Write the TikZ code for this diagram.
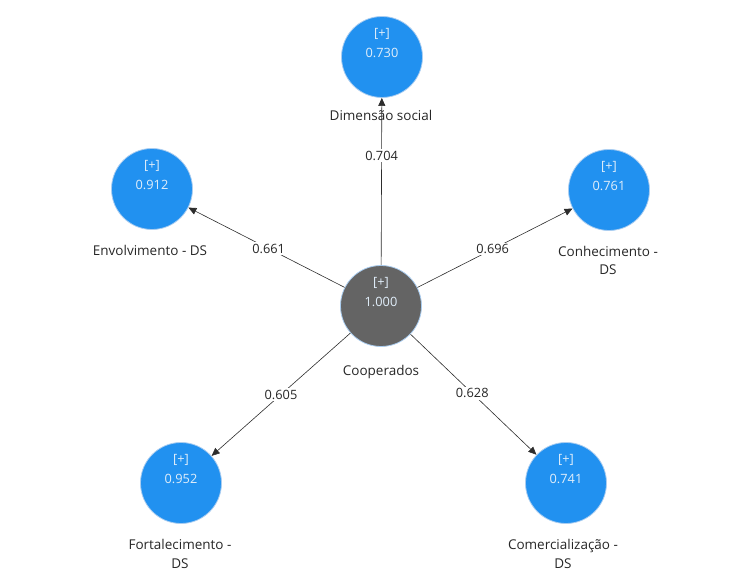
\documentclass[tikz,border=0pt]{standalone}
\usepackage{fontspec}
\setmainfont{Open Sans}
\usetikzlibrary{arrows.meta}
\definecolor{lvblue}{RGB}{33,145,240}
\definecolor{lvgray}{RGB}{100,100,100}
\definecolor{lvedge}{RGB}{170,205,240}
\definecolor{lvline}{RGB}{45,45,45}
\definecolor{lvin}{RGB}{225,238,250}
\tikzset{
  lv/.style={circle, fill=lvblue, draw=lvedge, line width=0.8pt, minimum size=81pt, inner sep=0pt},
  lvc/.style={lv, fill=lvgray},
  intext/.style={text=lvin, font=\fontsize{12.8}{14}\selectfont, align=center},
  lab/.style={text=black!85, font=\fontsize{13.5}{18.5}\selectfont, align=center},
  arr/.style={draw=lvline, line width=0.6pt, -{Triangle[length=8pt,width=7pt]}},
  wt/.style={fill=white, inner sep=1.5pt, text=black!85, font=\fontsize{12.8}{14}\selectfont}
}
\begin{document}
\begin{tikzpicture}[x=1pt,y=1pt]
\useasboundingbox (0,0) rectangle (756,577);
% latent variables
\node[lvc] (C)  at (381,271) {};
\node[lv]  (T)  at (382,520) {};
\node[lv]  (L)  at (152,388) {};
\node[lv]  (R)  at (609,387) {};
\node[lv]  (BL) at (181,94) {};
\node[lv]  (BR) at (566,94) {};
% connectors
\draw[arr] (C) -- node[wt, pos=0.655] (eT) {0.704} (T);
\draw[arr] (C) -- node[wt, pos=0.486] (eL) {0.661} (L);
\draw[arr] (C) -- node[wt, pos=0.485] (eR) {0.696} (R);
\draw[arr] (C) -- node[wt, pos=0.50] (eBL) {0.605} (BL);
\draw[arr] (C) -- node[wt, pos=0.49] (eBR) {0.628} (BR);
% inner texts
\foreach \n/\v in {C/1.000,T/0.730,L/0.912,R/0.761,BL/0.952,BR/0.741}{
  \node[intext] (\n p) at ([yshift=23pt]\n.center) {[+]};
  \node[intext] (\n v) at ([yshift=4pt]\n.center) {\v};
}
% labels
\node[lab] (Cl)  at (381,205) {Cooperados};
\node[lab] (Tl)  at (381,462) {Dimensão social};
\node[lab] (Ll)  at (150,327) {Envolvimento - DS};
\node[lab] (Rl)  at (608,316.5) {Conhecimento -\\DS};
\node[lab] (BLl) at (180,23) {Fortalecimento -\\DS};
\node[lab] (BRl) at (563,23) {Comercialização -\\DS};
\end{tikzpicture}
\end{document}
